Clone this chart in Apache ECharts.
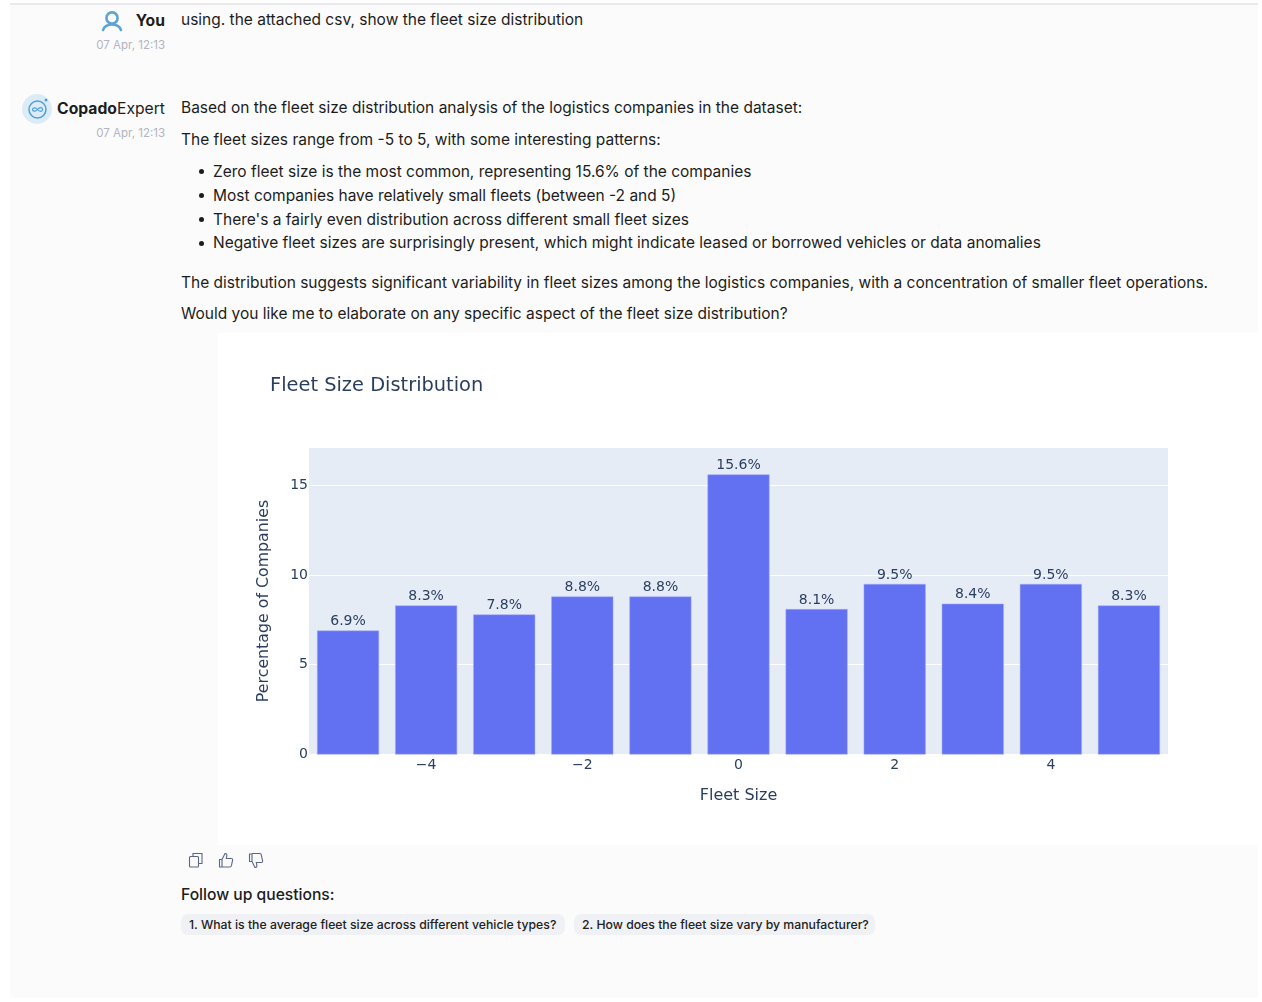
<!DOCTYPE html>
<html><head><meta charset="utf-8">
<script src="https://cdn.jsdelivr.net/npm/echarts@6/dist/echarts.min.js"></script>
<style>
html,body{margin:0;padding:0;width:1262px;height:1002px;background:#fff;overflow:hidden;font-family:Inter,"Liberation Sans",sans-serif;color:#1d1d20}
#panel{position:absolute;left:10px;top:5px;width:1248px;height:993px;background:#fbfbfc}
#topline{position:absolute;left:10px;top:3px;width:1248px;height:2px;background:#e9e9ee}
#chartbox{position:absolute;left:218px;top:333px;width:1040px;height:512px;background:#fff}
#chart{position:absolute;left:0;top:0;width:1040px;height:512px}
.t{position:absolute;white-space:nowrap;font-size:15.5px;line-height:20px}
.time{position:absolute;white-space:nowrap;font-size:11.5px;color:#b3b4c0;line-height:14px;right:1097px}
.name{position:absolute;white-space:nowrap;font-size:15.7px;line-height:20px;right:1097px}
.chip{position:absolute;top:914px;height:21px;line-height:21px;background:#f0f1f4;border-radius:7px;font-size:12.25px;font-weight:500;padding:0 8px;white-space:nowrap;color:#222;box-sizing:border-box}
.dot{position:absolute;left:199px;width:5px;height:5px;border-radius:50%;background:#1d1d20}
svg.i{position:absolute}
</style></head><body>
<div id="panel"></div><div id="topline"></div>
<svg class="i" style="left:100px;top:9px" width="24" height="24" viewBox="0 0 24 24" fill="none" stroke="#5ba4d6" stroke-width="2.6" stroke-linecap="round"><circle cx="12" cy="9" r="5.6"/><path d="M3 21c1.5-4 5-5.5 9-5.5s7.500 1.500 9 5.500"/></svg>
<div class="name" style="top:11px;font-weight:700">You</div>
<div class="time" style="top:38px">07 Apr, 12:13</div>
<svg class="i" style="left:22px;top:93px" width="31" height="31" viewBox="0 0 31 31" fill="none"><circle cx="15" cy="16" r="15" fill="#dcecf7"/><circle cx="15.500" cy="16.500" r="8.500" stroke="#4f9fd8" stroke-width="1.500"/><path d="M15.500 16.500c-2-2.500-5-2-5 0s3 2.500 5 0 5-2.500 5 0-3 2.500-5 0z" stroke="#4f9fd8" stroke-width="1.200"/><circle cx="24" cy="7" r="1.500" fill="#4f9fd8"/></svg>
<div class="name" style="top:99px"><b>Copado</b>Expert</div>
<div class="time" style="top:126px">07 Apr, 12:13</div>
<div class="t" style="left:181px;top:10px">using. the attached csv, show the fleet size distribution</div>
<div class="t" style="left:181px;top:98px">Based on the fleet size distribution analysis of the logistics companies in the dataset:</div>
<div class="t" style="left:181px;top:130px">The fleet sizes range from -5 to 5, with some interesting patterns:</div>
<div class="dot" style="top:169px"></div><div class="t" style="left:213px;top:162px">Zero fleet size is the most common, representing 15.6% of the companies</div>
<div class="dot" style="top:193px"></div><div class="t" style="left:213px;top:186px">Most companies have relatively small fleets (between -2 and 5)</div>
<div class="dot" style="top:217px"></div><div class="t" style="left:213px;top:210px">There's a fairly even distribution across different small fleet sizes</div>
<div class="dot" style="top:241px"></div><div class="t" style="left:213px;top:233px">Negative fleet sizes are surprisingly present, which might indicate leased or borrowed vehicles or data anomalies</div>
<div class="t" style="left:181px;top:273px">The distribution suggests significant variability in fleet sizes among the logistics companies, with a concentration of smaller fleet operations.</div>
<div class="t" style="left:181px;top:304px">Would you like me to elaborate on any specific aspect of the fleet size distribution?</div>
<div id="chartbox"><div id="chart"></div></div>
<svg class="i" style="left:188px;top:852px" width="80" height="17" viewBox="0 0 80 17" fill="none" stroke="#5c6788" stroke-width="1.100"><rect x="1.500" y="4.500" width="9" height="10.500" rx="1"/><path d="M5 4.500V1.500h9v10h-3.500"/><path d="M34 7.500h-2.500v7.500H34zM34 7.500l3-6c1.500 0 2 1 1.800 2.300L38.300 6.500h5c1 0 1.500.8 1.300 1.700l-1.200 5.500c-.2.800-.8 1.300-1.600 1.300H34"/><path d="M64 9.500h-2.500V2H64zM64 9.500l3 6c1.500 0 2-1 1.800-2.300l-.5-2.700h5c1 0 1.500-.8 1.300-1.700l-1.200-5.500C73.200 2 72.600 1.500 71.800 1.500H64"/></svg>
<div class="t" style="left:181px;top:885px;font-weight:500;font-size:15.65px">Follow up questions:</div>
<div class="chip" style="left:181px;width:384px">1. What is the average fleet size across different vehicle types?</div>
<div class="chip" style="left:574px;width:301px">2. How does the fleet size vary by manufacturer?</div>
<script>
const categories = [-5,-4,-3,-2,-1,0,1,2,3,4,5];
const shares = [6.9,8.3,7.8,8.8,8.8,15.6,8.1,9.5,8.4,9.5,8.3];
const xTickLabels = ['','−4','','−2','','0','','2','','4',''];
const yTicks = [0,5,10,15];
const chartTitle = 'Fleet Size Distribution';
const xName = 'Fleet Size';
const yName = 'Percentage of Companies';
const ink = '#2a3f5f';
const font = '"DejaVu Sans",sans-serif';
const chart = echarts.init(document.getElementById('chart'), null, {renderer:'canvas'});
chart.setOption({
  animation:false,
  backgroundColor:'#fff',
  title:{text:chartTitle,left:52,top:43,padding:0,textStyle:{color:ink,fontFamily:font,fontSize:19.4,fontWeight:'normal'}},
  grid:{left:91,top:114.5,width:859,height:307,backgroundColor:'#e5ecf6',show:true,borderWidth:0},
  xAxis:{type:'category',data:categories,name:xName,nameLocation:'middle',nameGap:33.5,
    nameTextStyle:{color:ink,fontFamily:font,fontSize:16},
    axisLine:{show:false},axisTick:{show:false},splitLine:{show:false},
    axisLabel:{interval:0,margin:4,color:ink,fontFamily:font,fontSize:14,formatter:(v,i)=>xTickLabels[i]}},
  yAxis:{type:'value',min:0,max:17.1,interval:5,name:yName,nameLocation:'middle',nameGap:37,
    nameTextStyle:{color:ink,fontFamily:font,fontSize:15.8},
    axisLine:{show:false},axisTick:{show:false},
    splitLine:{show:true,lineStyle:{color:'#fff',width:1}},
    axisLabel:{margin:1,padding:[2,0,0,0],color:ink,fontFamily:font,fontSize:14,showMaxLabel:false,
      formatter:v=>yTicks.includes(v)?String(v):''}},
  series:[{type:'bar',data:shares,barWidth:62,
    itemStyle:{color:'#6271f2',borderColor:'#a5abf7',borderWidth:0.5},
    label:{show:true,position:'top',distance:2,color:ink,fontFamily:font,fontSize:14,formatter:p=>p.value.toFixed(1)+'%'}}]
});
</script>
</body></html>
